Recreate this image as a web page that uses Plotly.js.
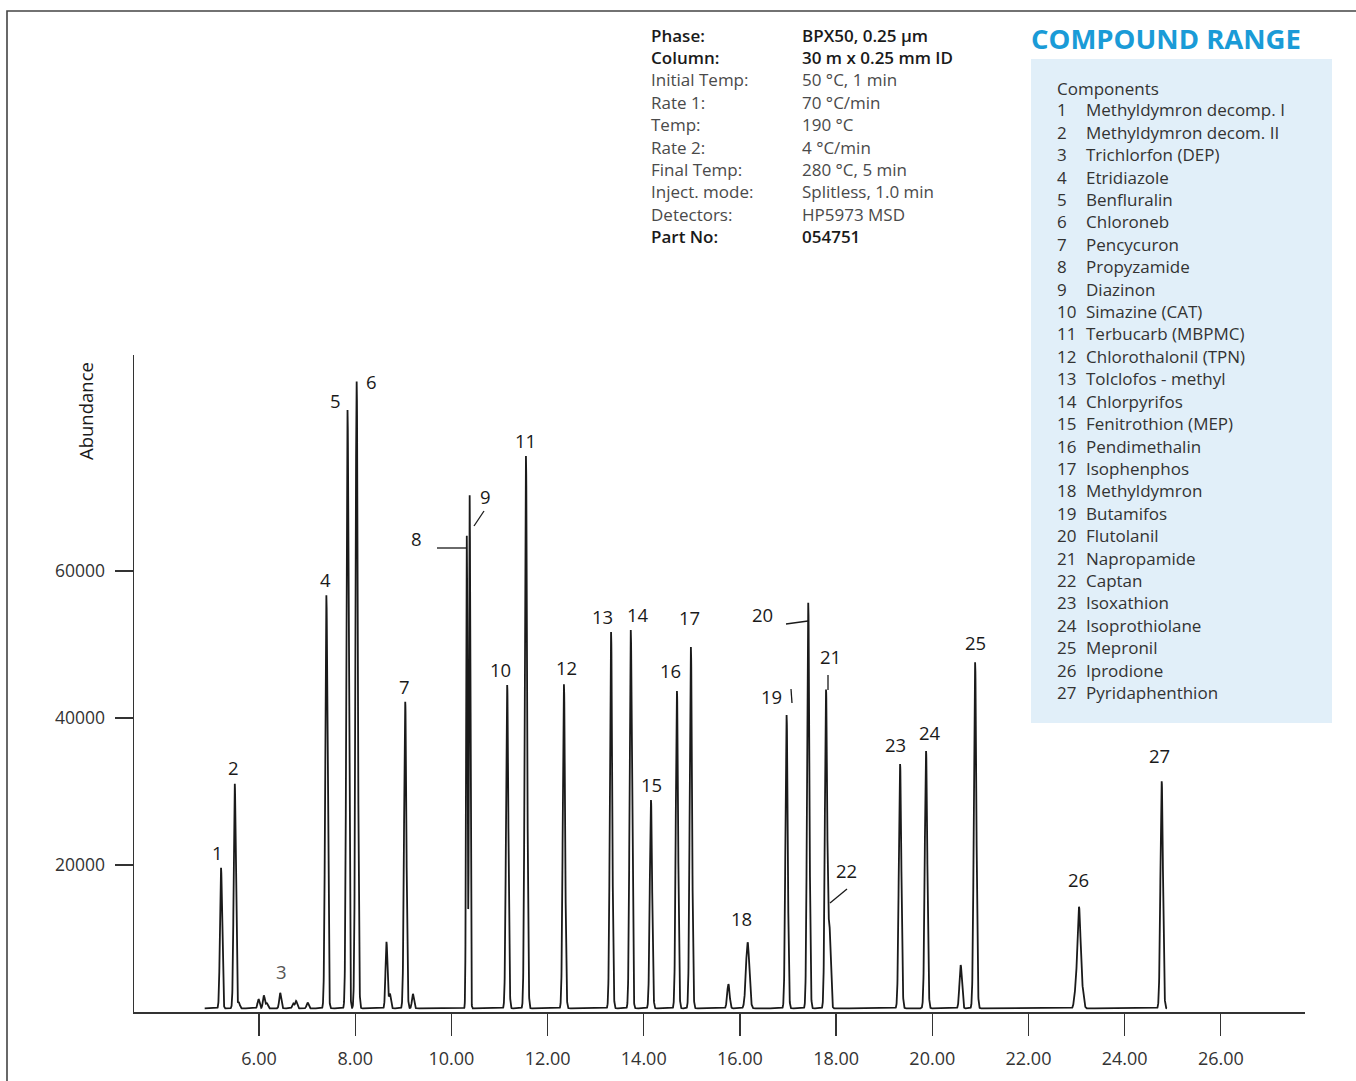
<!DOCTYPE html>
<html>
<head>
<meta charset="utf-8">
<script src="https://cdn.plot.ly/plotly-3.0.1.min.js"></script>
<style>html,body{margin:0;padding:0;background:#fff;}#chart{width:1356px;height:1081px;}</style>
</head>
<body>
<div id="chart"></div>
<script>
// ---------------- DATA ----------------
// Peak retention times (min), heights above baseline (abundance), widths (sigma, min)
const peakRT     = [5.21, 5.495, 5.58, 5.99, 6.10, 6.16, 6.44, 6.71, 6.77, 7.01, 7.40, 7.84, 8.03, 8.65, 8.72, 9.04, 9.20, 10.32, 10.38, 11.16, 11.55, 12.34, 13.32, 13.73, 14.15, 14.69, 14.98, 15.76, 16.16, 16.97, 17.42, 17.79, 17.86, 19.33, 19.87, 20.59, 20.89, 22.97, 23.05, 23.13, 24.77];
const peakHeight = [19130, 30600, 800, 1250, 1750, 700, 2100, 650, 1000, 800, 56200, 81400, 85300, 9050, 2000, 41700, 1950, 64300, 69800, 44000, 75150, 44100, 51200, 51470, 28340, 43170, 49160, 3300, 8980, 39900, 55190, 43170, 11000, 33240, 35000, 5900, 47100, 1600, 13800, 1700, 30900];
const peakSigma  = [0.022, 0.022, 0.02, 0.02, 0.02, 0.02, 0.02, 0.02, 0.02, 0.02, 0.024, 0.024, 0.024, 0.02, 0.02, 0.024, 0.02, 0.014, 0.014, 0.024, 0.024, 0.024, 0.024, 0.024, 0.024, 0.024, 0.024, 0.025, 0.035, 0.024, 0.024, 0.024, 0.025, 0.026, 0.026, 0.025, 0.026, 0.025, 0.035, 0.025, 0.026];
const baselineLevel = 500;
const runStart = 4.87, runEnd = 24.88;

const xTickVals = [6, 8, 10, 12, 14, 16, 18, 20, 22, 24, 26];
const yTickVals = [20000, 40000, 60000];

const infoLabels = ['Phase:', 'Column:', 'Initial Temp:', 'Rate 1:', 'Temp:', 'Rate 2:', 'Final Temp:', 'Inject. mode:', 'Detectors:', 'Part No:'];
const infoValues = ['BPX50, 0.25 µm', '30 m x 0.25 mm ID', '50 °C, 1 min', '70 °C/min', '190 °C', '4 °C/min', '280 °C, 5 min', 'Splitless, 1.0 min', 'HP5973 MSD', '054751'];
const infoBold = [true, true, false, false, false, false, false, false, false, true];

const compoundNames = ['Methyldymron decomp. I', 'Methyldymron decom. II', 'Trichlorfon (DEP)', 'Etridiazole', 'Benfluralin', 'Chloroneb', 'Pencycuron', 'Propyzamide', 'Diazinon', 'Simazine (CAT)', 'Terbucarb (MBPMC)', 'Chlorothalonil (TPN)', 'Tolclofos - methyl', 'Chlorpyrifos', 'Fenitrothion (MEP)', 'Pendimethalin', 'Isophenphos', 'Methyldymron', 'Butamifos', 'Flutolanil', 'Napropamide', 'Captan', 'Isoxathion', 'Isoprothiolane', 'Mepronil', 'Iprodione', 'Pyridaphenthion'];

// ---------------- build chromatogram from the peak table ----------------
const xs = [], ys = [];
for (let t = runStart; t <= runEnd + 1e-9; t += 0.002) {
  let v = baselineLevel;
  for (let i = 0; i < peakRT.length; i++) {
    const d = (t - peakRT[i]) / peakSigma[i];
    if (Math.abs(d) < 8) v += peakHeight[i] * Math.exp(-0.5 * d * d);
  }
  xs.push(t); ys.push(v);
}

// ---------------- layout helpers (pixel -> paper) ----------------
const W = 1356, H = 1081;
const PL = 134, PR = 1305, PT = 355, PB = 1012;
const xP = px => (px - PL) / (PR - PL);
const yP = py => (PB - py) / (PB - PT);

const FONT = 'Open Sans, Noto Sans, sans-serif';
const annotations = [];
const shapes = [];

// Peak number labels [label, px, py]
const peakLabelPos = [
  ['1', 217, 852], ['2', 233, 767], ['3', 281, 971], ['4', 325, 579], ['5', 335, 400], ['6', 371, 381],
  ['7', 404, 686], ['8', 416, 538], ['9', 486, 496], ['10', 500, 669], ['11', 525, 440], ['12', 566, 667],
  ['13', 602, 616], ['14', 638, 614], ['15', 651, 784], ['16', 670, 670], ['17', 689, 617], ['18', 741, 918],
  ['19', 771, 696], ['20', 762, 614], ['21', 830, 656], ['22', 846, 870], ['23', 895, 744], ['24', 930, 732],
  ['25', 975, 642], ['26', 1078, 879], ['27', 1159, 755]
];
peakLabelPos.forEach(([t, px, py]) => {
  annotations.push({xref: 'paper', yref: 'paper', x: xP(px), y: yP(py), xanchor: 'center', yanchor: 'middle',
    showarrow: false, text: t, font: {family: FONT, size: 18.5, color: t === '3' ? '#555' : '#1a1a1a'}});
});

// leader lines
const leaders = [[437, 548, 466, 548], [484, 511, 474, 526], [791, 689, 792, 703], [786, 624, 808, 621], [828, 675, 828, 690], [847, 889, 830, 903]];
leaders.forEach(([x0, y0, x1, y1]) => {
  shapes.push({type: 'line', xref: 'paper', yref: 'paper', x0: xP(x0), y0: yP(y0), x1: xP(x1), y1: yP(y1),
    line: {color: '#1a1a1a', width: 1.3}});
});

// y axis title
annotations.push({xref: 'paper', yref: 'paper', x: xP(85), y: yP(411), textangle: -90, xanchor: 'center', yanchor: 'middle',
  showarrow: false, text: 'Abundance', font: {family: FONT, size: 18.5, color: '#1a1a1a'}});

// info block
infoLabels.forEach((lab, i) => {
  const py = 35 + i * 22.4;
  const f = {family: FONT, size: 17, color: infoBold[i] ? '#1a1a1a' : '#4a4a4a', weight: infoBold[i] ? 600 : 400};
  annotations.push({xref: 'paper', yref: 'paper', x: xP(649), y: yP(py), xanchor: 'left', yanchor: 'middle', showarrow: false, text: lab, font: f});
  annotations.push({xref: 'paper', yref: 'paper', x: xP(800), y: yP(py), xanchor: 'left', yanchor: 'middle', showarrow: false, text: infoValues[i], font: f});
});

// compound range box
shapes.push({type: 'rect', xref: 'paper', yref: 'paper', x0: xP(1031), x1: xP(1332), y0: yP(723), y1: yP(59),
  fillcolor: '#e1eff9', line: {width: 0}, layer: 'below'});
annotations.push({xref: 'paper', yref: 'paper', x: xP(1029), y: yP(38), xanchor: 'left', yanchor: 'middle', showarrow: false,
  text: 'COMPOUND RANGE', font: {family: FONT, size: 27.5, color: '#1a9bd7', weight: 700}});
annotations.push({xref: 'paper', yref: 'paper', x: xP(1055), y: yP(88), xanchor: 'left', yanchor: 'middle', showarrow: false,
  text: 'Components', font: {family: FONT, size: 17, color: '#333'}});
compoundNames.forEach((nm, i) => {
  const py = 110 + i * 22.4;
  const f = {family: FONT, size: 17, color: '#333'};
  annotations.push({xref: 'paper', yref: 'paper', x: xP(1055), y: yP(py), xanchor: 'left', yanchor: 'middle', showarrow: false, text: String(i + 1), font: f});
  annotations.push({xref: 'paper', yref: 'paper', x: xP(1084), y: yP(py), xanchor: 'left', yanchor: 'middle', showarrow: false, text: nm, font: f});
});

// outer frame (cropped at right and bottom)
shapes.push({type: 'rect', xref: 'paper', yref: 'paper', x0: xP(7), x1: xP(1370), y0: yP(1095), y1: yP(11),
  line: {color: '#444', width: 1.6}, fillcolor: 'rgba(0,0,0,0)'});

const trace = {x: xs, y: ys, type: 'scatter', mode: 'lines', line: {color: '#1a1a1a', width: 1.8}, hoverinfo: 'skip', showlegend: false};

const layout = {
  width: W, height: H,
  margin: {l: PL, r: W - PR, t: PT, b: H - PB, pad: 0},
  paper_bgcolor: '#fff', plot_bgcolor: 'rgba(0,0,0,0)',
  showlegend: false,
  font: {family: FONT, size: 17, color: '#333'},
  xaxis: {range: [3.4, 27.75], tickvals: xTickVals, tickformat: '.2f', ticks: 'outside', ticklen: 22, tickwidth: 1.3, tickcolor: '#333',
    showline: true, linecolor: '#333', linewidth: 1.5, showgrid: false, zeroline: false, ticklabelstandoff: 8,
    tickfont: {family: FONT, size: 18, color: '#333'}},
  yaxis: {range: [0, 89400], tickvals: yTickVals, tickformat: 'd', ticks: 'outside', ticklen: 18, tickwidth: 1.3, tickcolor: '#333',
    showline: true, linecolor: '#333', linewidth: 1.5, showgrid: false, zeroline: false, ticklabelstandoff: 6,
    tickfont: {family: FONT, size: 17.5, color: '#333'}},
  annotations: annotations,
  shapes: shapes
};

Plotly.newPlot('chart', [trace], layout, {displayModeBar: false, staticPlot: true});
</script>
</body>
</html>
